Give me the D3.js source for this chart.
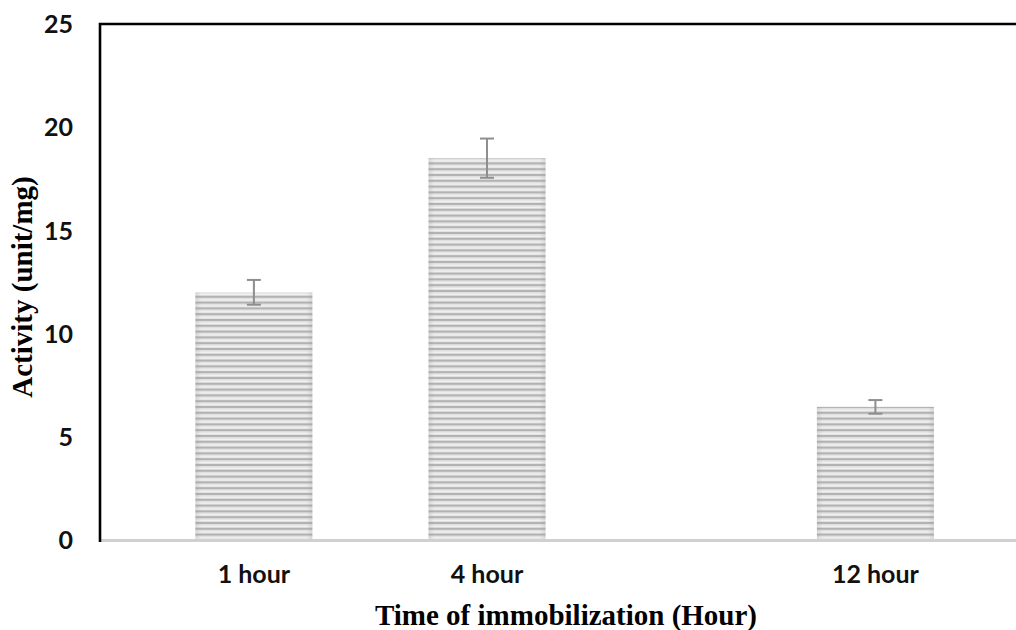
<!DOCTYPE html>
<html>
<head>
<meta charset="utf-8">
<script src="https://cdn.jsdelivr.net/npm/d3@7"></script>
<style>
  html, body { margin: 0; padding: 0; background: #fff; }
  svg { display: block; }
  .tick-label { font-family: Lato, "Open Sans", sans-serif; font-weight: 700; font-size: 25px; fill: #111; }
  .axis-title { font-family: "Liberation Serif", "Times New Roman", serif; font-weight: 700; font-size: 29px; fill: #000; }
</style>
</head>
<body>
<svg id="chart" width="1016" height="630"></svg>
<script>
// Enzyme activity by immobilization time (mean ± error)
const categories = ["1 hour", "4 hour", "12 hour"];
const activity = [12.0, 18.5, 6.45];
const activityErr = [0.6, 0.95, 0.33];
const yTicks = [0, 5, 10, 15, 20, 25];

const width = 1016, height = 630;
const plot = { left: 100, top: 24, right: 1016, bottom: 540 };

const svg = d3.select("#chart");

// Horizontal stripe fill used for the bars
const defs = svg.append("defs");
const pat = defs.append("pattern")
  .attr("id", "stripes")
  .attr("patternUnits", "userSpaceOnUse")
  .attr("width", 8).attr("height", 5.8);
pat.append("rect").attr("width", 8).attr("height", 5.8).attr("fill", "#e2e2e2");
pat.append("rect").attr("y", 0).attr("width", 8).attr("height", 2).attr("fill", "#b2b2b2");
pat.append("rect").attr("y", 3.6).attr("width", 8).attr("height", 1.2).attr("fill", "#f3f3f3");

const edge = defs.append("linearGradient").attr("id", "edgeShade")
  .attr("x1", "0").attr("x2", "1").attr("y1", "0").attr("y2", "0");
edge.append("stop").attr("offset", "0").attr("stop-color", "#999").attr("stop-opacity", 0.25);
edge.append("stop").attr("offset", "0.05").attr("stop-color", "#999").attr("stop-opacity", 0);
edge.append("stop").attr("offset", "0.95").attr("stop-color", "#999").attr("stop-opacity", 0);
edge.append("stop").attr("offset", "1").attr("stop-color", "#999").attr("stop-opacity", 0.25);

const y = d3.scaleLinear().domain([0, 25]).range([plot.bottom, plot.top]);

// Category centres sit at fixed fractions of the plot width
const plotW = plot.right - plot.left;
const x = d3.scaleOrdinal()
  .domain(categories)
  .range([0.168, 0.4225, 0.8465].map(f => plot.left + f * plotW));
const barW = 117;

const data = categories.map((c, i) => ({ c, v: activity[i], e: activityErr[i] }));

// Bars
const bars = svg.append("g");
bars.selectAll("rect.bar").data(data).join("rect")
  .attr("class", "bar")
  .attr("x", d => x(d.c) - barW / 2)
  .attr("y", d => y(d.v))
  .attr("width", barW)
  .attr("height", d => y(0) - y(d.v))
  .attr("fill", "url(#stripes)");
bars.selectAll("rect.shade").data(data).join("rect")
  .attr("class", "shade")
  .attr("x", d => x(d.c) - barW / 2)
  .attr("y", d => y(d.v))
  .attr("width", barW)
  .attr("height", d => y(0) - y(d.v))
  .attr("fill", "url(#edgeShade)");

// Error bars
const eb = svg.append("g").attr("stroke", "#8e8e8e").attr("stroke-width", 2).attr("fill", "none");
const capW = 14;
data.forEach(d => {
  const cx = x(d.c);
  eb.append("line").attr("x1", cx).attr("x2", cx).attr("y1", y(d.v + d.e)).attr("y2", y(d.v - d.e));
  eb.append("line").attr("x1", cx - capW / 2).attr("x2", cx + capW / 2).attr("y1", y(d.v + d.e)).attr("y2", y(d.v + d.e));
  eb.append("line").attr("x1", cx - capW / 2).attr("x2", cx + capW / 2).attr("y1", y(d.v - d.e)).attr("y2", y(d.v - d.e));
});

// Category axis baseline
svg.append("line")
  .attr("x1", plot.left).attr("x2", plot.right)
  .attr("y1", y(0) + 0.5).attr("y2", y(0) + 0.5)
  .attr("stroke", "#d0d0d0").attr("stroke-width", 3);

// Frame: left and top edges
svg.append("path")
  .attr("d", `M${plot.left},${y(0) + 2}V${plot.top}H${plot.right}`)
  .attr("fill", "none").attr("stroke", "#000").attr("stroke-width", 2.6);

// Y tick labels
const yAxis = d3.axisLeft(y).tickValues(yTicks).tickSize(0).tickPadding(0);
const gy = svg.append("g").attr("transform", `translate(${plot.left - 27},0)`).call(yAxis);
gy.select(".domain").remove();
gy.selectAll("text").attr("class", "tick-label").attr("dy", "0.35em").attr("font-size", null).attr("font-family", null).attr("fill", null);

// X tick labels
svg.append("g").selectAll("text").data(categories).join("text")
  .attr("class", "tick-label")
  .attr("x", d => x(d))
  .attr("y", 583)
  .attr("text-anchor", "middle")
  .text(d => d);

// Axis titles
svg.append("text").attr("class", "axis-title")
  .attr("x", 566).attr("y", 625)
  .attr("text-anchor", "middle")
  .text("Time of immobilization (Hour)");

svg.append("text").attr("class", "axis-title")
  .attr("transform", "translate(32,287) rotate(-90)")
  .attr("text-anchor", "middle")
  .text("Activity (unit/mg)");
</script>
</body>
</html>
